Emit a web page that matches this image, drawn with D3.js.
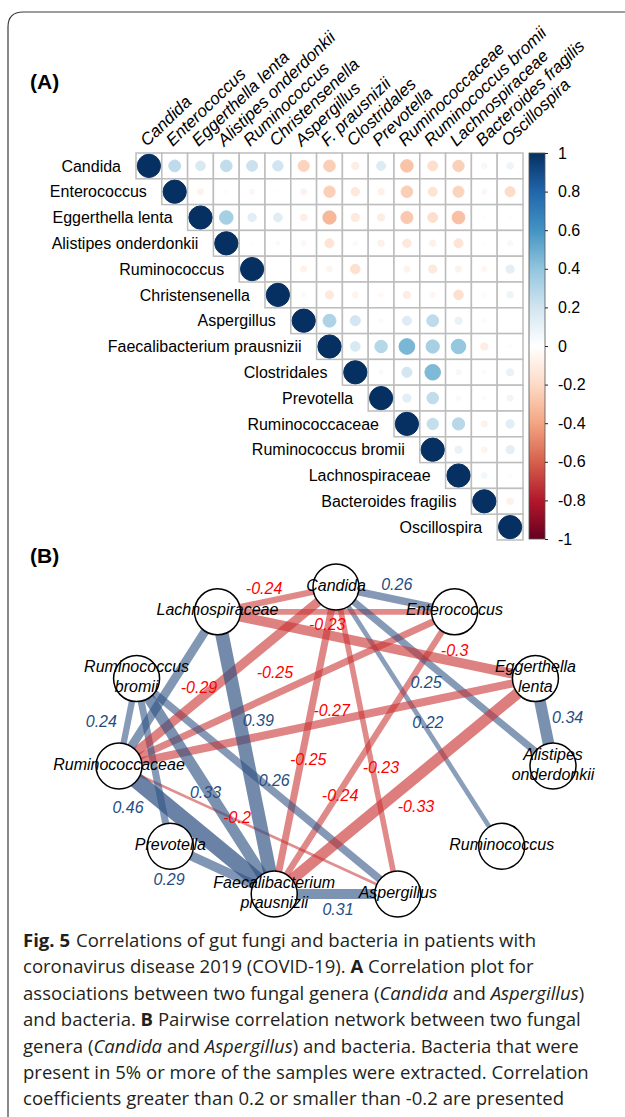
<!DOCTYPE html>
<html>
<head>
<meta charset="utf-8">
<script src="https://cdn.jsdelivr.net/npm/d3@7"></script>
<style>
  body { margin: 0; background: #fff; }
  svg { display: block; }
</style>
</head>
<body>
<svg id="fig" width="625" height="1117"></svg>
<script>
// ---------- Panel A: correlation matrix (upper triangle) ----------
const taxa = ["Candida", "Enterococcus", "Eggerthella lenta", "Alistipes onderdonkii",
  "Ruminococcus", "Christensenella", "Aspergillus", "Faecalibacterium prausnizii",
  "Clostridales", "Prevotella", "Ruminococcaceae", "Ruminococcus bromii",
  "Lachnospiraceae", "Bacteroides fragilis", "Oscillospira"];

const columnLabels = ["Candida", "Enterococcus", "Eggerthella lenta", "Alistipes onderdonkii",
  "Ruminococcus", "Christensenella", "Aspergillus", "F. prausnizii",
  "Clostridales", "Prevotella", "Ruminococcaceae", "Ruminococcus bromii",
  "Lachnospiraceae", "Bacteroides fragilis", "Oscillospira"];

// row i holds r(i, j) for j = i .. 14
const corrUpper = [
  [1, 0.26, 0.17, 0.25, 0.22, 0.20, -0.23, -0.25, -0.10, 0.15, -0.29, -0.18, -0.24, 0.05, 0.08],
  [1, -0.07, -0.02, -0.05, -0.01, -0.07, -0.24, -0.13, -0.08, -0.25, -0.15, -0.23, -0.05, -0.19],
  [1, 0.34, 0.13, 0.14, -0.09, -0.33, -0.12, -0.10, -0.27, -0.18, -0.30, -0.01, -0.02],
  [1, -0.01, 0.03, -0.05, -0.15, -0.04, -0.08, -0.13, -0.08, -0.15, -0.01, 0.05],
  [1, 0.01, -0.07, -0.06, -0.17, -0.01, -0.07, -0.12, -0.07, -0.05, 0.12],
  [1, -0.04, -0.12, -0.06, -0.04, -0.10, -0.05, -0.17, -0.03, 0.08],
  [1, 0.31, 0.19, 0.03, 0.15, 0.26, 0.10, -0.03, 0.01],
  [1, 0.17, 0.29, 0.46, 0.33, 0.39, -0.10, 0.02],
  [1, 0.03, 0.19, 0.45, 0.05, -0.03, 0.10],
  [1, 0.12, 0.25, 0.04, -0.03, 0.07],
  [1, 0.24, 0.28, -0.07, 0.13],
  [1, 0.10, -0.06, 0.12],
  [1, 0.06, -0.02],
  [1, -0.08],
  [1]
];

const colorStops = [-1, -0.8, -0.6, -0.4, -0.2, 0, 0.2, 0.4, 0.6, 0.8, 1];
const colorHex = ["#67001F", "#B2182B", "#D6604D", "#F4A582", "#FDDBC7", "#FFFFFF",
  "#D1E5F0", "#92C5DE", "#4393C3", "#2166AC", "#053061"];

const legendTicks = [1, 0.8, 0.6, 0.4, 0.2, 0, -0.2, -0.4, -0.6, -0.8, -1];
const legendTickLabels = ["1", "0.8", "0.6", "0.4", "0.2", "0", "-0.2", "-0.4", "-0.6", "-0.8", "-1"];

// ---------- Panel B: correlation network ----------
const netNodes = ["Candida", "Enterococcus", "Eggerthella lenta", "Alistipes onderdonkii",
  "Ruminococcus", "Aspergillus", "Faecalibacterium prausnizii", "Prevotella",
  "Ruminococcaceae", "Ruminococcus bromii", "Lachnospiraceae"];
const netNodeLines = [["Candida"], ["Enterococcus"], ["Eggerthella", "lenta"], ["Alistipes", "onderdonkii"],
  ["Ruminococcus"], ["Aspergillus"], ["Faecalibacterium", "prausnizii"], ["Prevotella"],
  ["Ruminococcaceae"], ["Ruminococcus", "bromii"], ["Lachnospiraceae"]];

const edgeSource = ["Candida", "Candida", "Lachnospiraceae", "Lachnospiraceae", "Candida",
  "Enterococcus", "Ruminococcaceae", "Candida", "Candida", "Enterococcus",
  "Eggerthella lenta", "Ruminococcaceae", "Candida", "Candida", "Eggerthella lenta",
  "Lachnospiraceae", "Ruminococcus bromii", "Ruminococcus bromii", "Ruminococcus bromii",
  "Ruminococcaceae", "Prevotella", "Faecalibacterium prausnizii", "Lachnospiraceae",
  "Ruminococcus bromii"];
const edgeTarget = ["Enterococcus", "Lachnospiraceae", "Enterococcus", "Eggerthella lenta",
  "Ruminococcaceae", "Ruminococcaceae", "Eggerthella lenta", "Faecalibacterium prausnizii",
  "Aspergillus", "Faecalibacterium prausnizii", "Faecalibacterium prausnizii", "Aspergillus",
  "Alistipes onderdonkii", "Ruminococcus", "Alistipes onderdonkii", "Faecalibacterium prausnizii",
  "Ruminococcaceae", "Faecalibacterium prausnizii", "Aspergillus", "Faecalibacterium prausnizii",
  "Faecalibacterium prausnizii", "Aspergillus", "Ruminococcaceae", "Prevotella"];
const edgeWeight = [0.26, -0.24, -0.23, -0.30, -0.29, -0.25, -0.27, -0.25, -0.23, -0.24,
  -0.33, -0.20, 0.25, 0.22, 0.34, 0.39, 0.24, 0.33, 0.26, 0.46, 0.29, 0.31, 0.28, 0.25];
const edgeLabelled = [true, true, true, true, true, true, true, true, true, true, true, true,
  true, true, true, true, true, true, true, true, true, true, false, false];

// label placement along each edge: fraction from source, sideways shift in px
const edgeLabelAlong = [0.486, 0.583, 0.463, 0.739, 0.602, 0.511, 0.516, 0.556, 0.592, 0.647,
  0.512, 0.419, 0.462, 0.531, 0.495, 0.397, 0.551, 0.52, 0.505, 0.164, 0.11, 0.516, 0.5, 0.5];
const edgeLabelSide = [-15.5, 13.7, 12.1, -10.5, 10.1, 19.6, -10.8, -6.7, -8.5, -2.6,
  -22.5, -2.9, 16.0, -4.6, -24.0, -18.7, 26.1, 3.2, -9.0, 25.9, 30.4, 15, 0, 0];

// ---------- Caption ----------
const captionLines = [
  [["Fig. 5", "b"], ["Correlations of gut fungi and bacteria in patients with", "n", 6]],
  [["coronavirus disease 2019 (COVID-19). ", "n"], ["A", "b"], [" Correlation plot for", "n"]],
  [["associations between two fungal genera (", "n"], ["Candida", "i"], [" and ", "n"], ["Aspergillus", "i"], [")", "n"]],
  [["and bacteria. ", "n"], ["B", "b"], [" Pairwise correlation network between two fungal", "n"]],
  [["genera (", "n"], ["Candida", "i"], [" and ", "n"], ["Aspergillus", "i"], [") and bacteria. Bacteria that were", "n"]],
  [["present in 5% or more of the samples were extracted. Correlation", "n"]],
  [["coefficients greater than 0.2 or smaller than -0.2 are presented", "n"]]
];

// =====================================================================
const FONT = "'Liberation Sans', Arial, Helvetica, sans-serif";
const svg = d3.select("#fig");

// outer panel frame (rounded top-left corner)
svg.append("path")
  .attr("d", "M8,1117 V27 Q8,12 23,12 H625")
  .attr("fill", "none").attr("stroke", "#3c3c3c").attr("stroke-width", 1.2);

// panel tags
svg.append("text").attr("x", 30).attr("y", 89).attr("font-family", FONT)
  .attr("font-size", 21).attr("font-weight", "bold").text("(A)");
svg.append("text").attr("x", 30).attr("y", 563).attr("font-family", FONT)
  .attr("font-size", 21).attr("font-weight", "bold").text("(B)");

// ---------- matrix ----------
const n = taxa.length;
const xA = d3.scaleBand().domain(d3.range(n)).range([136, 523]);
const yA = d3.scaleBand().domain(d3.range(n)).range([153, 540]);
const bw = xA.bandwidth();
const corrColor = d3.scaleLinear().domain(colorStops).range(colorHex).clamp(true);
const circleR = v => 0.45 * Math.sqrt(Math.abs(v)) * bw;

const cells = [];
corrUpper.forEach((row, i) => row.forEach((v, k) => cells.push({ i, j: i + k, v })));

const gA = svg.append("g");
gA.selectAll("rect.cell").data(cells).join("rect").attr("class", "cell")
  .attr("x", d => xA(d.j)).attr("y", d => yA(d.i))
  .attr("width", bw).attr("height", bw)
  .attr("fill", "#fff").attr("stroke", "#bdbdbd").attr("stroke-width", 1.5);

gA.selectAll("circle").data(cells).join("circle")
  .attr("cx", d => xA(d.j) + bw / 2).attr("cy", d => yA(d.i) + bw / 2)
  .attr("r", d => circleR(d.v)).attr("fill", d => corrColor(d.v))
  .attr("stroke", d => corrColor(d.v)).attr("stroke-width", 1);

gA.selectAll("text.rowlab").data(taxa).join("text").attr("class", "rowlab")
  .attr("x", (d, i) => xA(i) - 15).attr("y", (d, i) => yA(i) + bw / 2)
  .attr("dy", "0.36em").attr("text-anchor", "end")
  .attr("font-family", FONT).attr("font-size", 16).attr("fill", "#000")
  .text(d => d);

gA.selectAll("text.collab").data(columnLabels).join("text").attr("class", "collab")
  .attr("transform", (d, i) => `translate(${xA(i) + bw / 2 - 2},147) rotate(-44)`)
  .attr("font-family", FONT).attr("font-size", 17).attr("font-style", "italic")
  .attr("fill", "#000").text(d => d);

// colour legend
const legY = d3.scaleLinear().domain([-1, 1]).range([539, 153]);
const defs = svg.append("defs");
const grad = defs.append("linearGradient").attr("id", "corrGrad")
  .attr("x1", 0).attr("y1", 1).attr("x2", 0).attr("y2", 0);
grad.selectAll("stop").data(colorStops).join("stop")
  .attr("offset", d => (d + 1) / 2).attr("stop-color", (d, i) => colorHex[i]);

svg.append("rect").attr("x", 529).attr("y", legY(1)).attr("width", 16)
  .attr("height", legY(-1) - legY(1)).attr("fill", "url(#corrGrad)")
  .attr("stroke", "#555").attr("stroke-width", 0.8);

const legAxis = svg.append("g").attr("transform", "translate(545,0)")
  .call(d3.axisRight(legY).tickValues(legendTicks)
    .tickFormat((d, i) => legendTickLabels[i]).tickSize(3).tickPadding(10));
legAxis.select(".domain").remove();
legAxis.selectAll("line").attr("stroke", "#222");
legAxis.selectAll("text").attr("font-family", FONT).attr("font-size", 16).attr("fill", "#000");

// ---------- network ----------
const angle = i => Math.PI / 2 - i * 2 * Math.PI / netNodes.length;
const layout = netNodes.map((name, i) => ({ name, lines: netNodeLines[i],
  lx: Math.cos(angle(i)), ly: Math.sin(angle(i)) }));
const xB = d3.scaleLinear().domain(d3.extent(layout, d => d.lx)).range([119, 553]);
const yB = d3.scaleLinear().domain(d3.extent(layout, d => d.ly)).range([894, 587]);
layout.forEach(d => { d.x = xB(d.lx); d.y = yB(d.ly); });
const nodeByName = new Map(layout.map(d => [d.name, d]));

const edges = edgeWeight.map((w, k) => ({
  s: nodeByName.get(edgeSource[k]), t: nodeByName.get(edgeTarget[k]), w,
  labelled: edgeLabelled[k], along: edgeLabelAlong[k], side: edgeLabelSide[k]
}));

const edgeWidth = w => 16 * Math.pow(Math.max(0, Math.abs(w) - 0.19) / 0.27, 0.55);
const edgeAlpha = d3.scaleLinear().domain([0.2, 0.46]).range([0.55, 0.72]);
const POS = "#2f5283", NEG = "#c93232";

const gB = svg.append("g");
gB.selectAll("line.edge").data(edges.slice().sort((a, b) => Math.abs(a.w) - Math.abs(b.w)))
  .join("line").attr("class", "edge")
  .attr("x1", d => d.s.x).attr("y1", d => d.s.y)
  .attr("x2", d => d.t.x).attr("y2", d => d.t.y)
  .attr("stroke", d => d.w > 0 ? POS : NEG)
  .attr("stroke-opacity", d => edgeAlpha(Math.abs(d.w)))
  .attr("stroke-width", d => edgeWidth(d.w));

const labelPos = d => {
  const dx = d.t.x - d.s.x, dy = d.t.y - d.s.y, len = Math.hypot(dx, dy);
  const ux = dx / len, uy = dy / len;
  return [d.s.x + dx * d.along - uy * d.side, d.s.y + dy * d.along + ux * d.side];
};

gB.selectAll("text.elab").data(edges.filter(d => d.labelled)).join("text").attr("class", "elab")
  .attr("x", d => labelPos(d)[0]).attr("y", d => labelPos(d)[1])
  .attr("dy", "0.35em").attr("text-anchor", "middle")
  .attr("font-family", FONT).attr("font-size", 16).attr("font-style", "italic")
  .attr("fill", d => d.w > 0 ? "#264d80" : "#ff0000")
  .text(d => String(d.w));

gB.selectAll("circle.node").data(layout).join("circle").attr("class", "node")
  .attr("cx", d => d.x).attr("cy", d => d.y).attr("r", 23)
  .attr("fill", "#fff").attr("stroke", "#000").attr("stroke-width", 1.5);

const nodeText = gB.selectAll("text.nlab").data(layout).join("text").attr("class", "nlab")
  .attr("text-anchor", "middle").attr("font-family", FONT).attr("font-size", 16)
  .attr("font-style", "italic").attr("fill", "#000");
nodeText.selectAll("tspan").data(d => d.lines.map((line, k) => ({ line, k, d })))
  .join("tspan")
  .attr("x", o => o.d.x)
  .attr("y", o => o.d.y - 2 + (o.k - (o.d.lines.length - 1) / 2) * 20)
  .attr("dy", "0.35em")
  .text(o => o.line);

// ---------- caption ----------
const CAP = "'Open Sans', 'Noto Sans', sans-serif";
const capG = svg.append("g");
const capTexts = captionLines.map((segs, li) => {
  const t = capG.append("text").attr("font-family", CAP).attr("font-size", 18.5)
    .attr("fill", "#231f20").attr("x", 0).attr("y", 0)
    .attr("data-line", li);
  segs.forEach(s => {
    const ts = t.append("tspan").text(s[0]);
    if (s[1] === "b") ts.attr("font-weight", "bold");
    if (s[1] === "i") ts.attr("font-style", "italic");
    if (s[2]) ts.attr("dx", s[2]);
  });
  return t;
});
// fit the widest line to the text column width
const widest = d3.max(capTexts, t => t.node().getComputedTextLength());
const sx = 566 / widest;
capTexts.forEach((t, li) => t.attr("transform", `translate(23,${947 + li * 26.4}) scale(${sx},1)`));
</script>
</body>
</html>
